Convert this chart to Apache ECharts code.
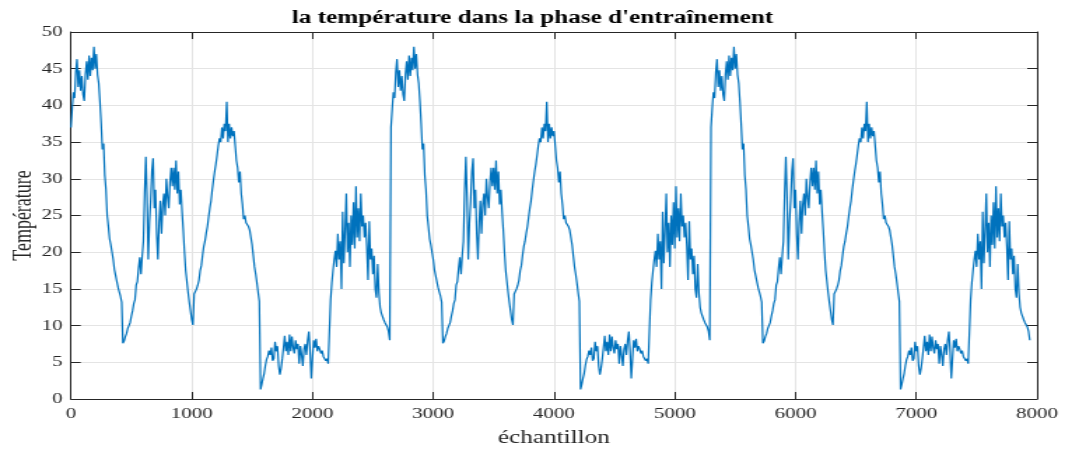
<!DOCTYPE html>
<html><head><meta charset="utf-8">
<script src="https://cdn.jsdelivr.net/npm/echarts@6/dist/echarts.min.js"></script>
<style>
html,body{margin:0;padding:0;background:#fff;overflow:hidden;width:1065px;height:450px}
#chart{width:761px;height:450px;transform:scaleX(1.39948);transform-origin:0 0;}
</style>
</head><body><div id="chart"></div>
<script>
const titleText = "la température dans la phase d'entraînement";
const xName = "échantillon";
const yName = "Température";
const xTicks = [0, 1000, 2000, 3000, 4000, 5000, 6000, 7000, 8000];
const yTicks = [0, 5, 10, 15, 20, 25, 30, 35, 40, 45, 50];

// One training cycle (read every 10 samples); the picture shows it three times
const sampleStep = 10;
const cycleLength = 2650;
const cycleCount = 3;
const cycleTemperature = [
  37.0, 39.5, 41.8, 41.0, 44.5, 46.3, 42.5, 44.8, 42.0, 44.0,
  41.5, 40.6, 44.2, 46.0, 43.5, 46.8, 44.0, 46.5, 44.8, 48.0,
  45.0, 47.0, 44.2, 43.0, 40.5, 37.5, 34.0, 34.8, 30.5, 28.5,
  25.0, 23.5, 21.8, 21.0, 20.0, 19.0, 17.6, 16.8, 16.0, 15.2,
  14.6, 14.0, 13.2, 7.6, 7.9, 8.5, 8.9, 9.6, 10.0, 10.4,
  11.3, 12.0, 13.0, 13.5, 15.5, 16.0, 17.8, 19.3, 17.0, 19.5,
  21.5, 28.0, 33.0, 27.5, 19.0, 24.0, 27.0, 31.0, 32.8, 26.0,
  28.5, 22.5, 19.0, 24.0, 27.0, 22.5, 26.5, 28.0, 25.0, 30.0,
  27.5, 26.0, 29.5, 31.5, 29.0, 31.5, 28.5, 32.5, 28.0, 31.0,
  26.5, 28.5, 25.5, 23.0, 20.0, 17.5, 16.0, 14.5, 13.2, 12.0,
  10.8, 10.1, 14.3, 14.5, 15.0, 15.5, 16.2, 17.5, 18.2, 19.6,
  20.8, 21.5, 22.6, 23.5, 24.8, 26.0, 27.0, 28.5, 29.8, 31.0,
  32.0, 33.2, 34.5, 35.5, 35.0, 37.0, 35.5, 37.5, 36.5, 40.5,
  35.0, 37.5, 35.5, 37.0, 35.8, 36.5, 34.5, 32.5, 31.5, 29.5,
  31.0, 28.0, 26.5, 24.5, 25.0, 24.0, 24.2, 23.5, 23.0, 22.8,
  21.0, 19.5, 18.0, 17.0, 15.8, 14.5, 13.3, 1.3, 2.0, 2.8,
  3.5, 4.6, 5.4, 5.8, 6.6, 6.0, 7.0, 5.2, 5.5, 7.8,
  6.5, 7.2, 4.5, 3.3, 4.2, 5.5, 7.0, 8.6, 6.5, 7.8,
  6.0, 8.8, 6.5, 8.5, 7.0, 6.2, 8.0, 6.8, 7.5, 4.8,
  7.2, 6.0, 4.5, 6.8, 7.5, 6.0, 8.0, 9.2, 6.5, 2.8,
  5.5, 8.0, 7.0, 8.2, 6.5, 7.2, 6.8, 6.2, 6.6, 5.8,
  6.0, 5.2, 5.5, 4.8, 5.0, 13.5, 15.8, 17.5, 19.0, 20.2,
  18.0, 22.5, 19.0, 21.5, 15.0, 25.5, 18.5, 23.0, 28.0, 20.0,
  24.0, 18.0, 25.0, 21.0, 26.8, 20.5, 29.0, 22.0, 26.0, 21.5,
  28.0, 23.5, 25.0, 22.0, 24.0, 20.8, 16.2, 24.2, 19.0, 20.5,
  17.0, 19.5, 15.0, 13.8, 18.4, 14.5, 12.5, 11.7, 11.5, 10.8,
  10.4, 10.2, 9.8, 9.2, 8.0
];

const seriesData = [];
for (let c = 0; c < cycleCount; c++) {
  for (let i = 0; i < cycleTemperature.length; i++) {
    seriesData.push([c * cycleLength + i * sampleStep, cycleTemperature[i]]);
  }
}

const axisColor = '#262626';
const font = '"Liberation Serif", "Times New Roman", serif';
const chart = echarts.init(document.getElementById('chart'), null, {renderer: 'canvas'});

const xBase = {
  type: 'value', min: xTicks[0], max: xTicks[xTicks.length - 1], interval: 1000,
  axisLine: {show: true, onZero: false, lineStyle: {color: axisColor, width: 1}},
  axisTick: {show: true, inside: true, length: 7, lineStyle: {color: axisColor}},
};
const yBase = {
  type: 'value', min: yTicks[0], max: yTicks[yTicks.length - 1], interval: 5,
  axisLine: {show: true, onZero: false, lineStyle: {color: axisColor, width: 1}},
  axisTick: {show: true, inside: true, length: 7, lineStyle: {color: axisColor}},
};

chart.setOption({
  animation: false,
  backgroundColor: '#ffffff',
  title: {
    text: titleText, left: 'center', top: 4,
    textStyle: {fontFamily: font, fontSize: 18, fontWeight: 'bold', color: '#000'}
  },
  grid: {left: 50.7, right: 20, top: 32, bottom: 51, containLabel: false, outerBoundsMode: 'none'},
  xAxis: [
    Object.assign({}, xBase, {
      position: 'bottom', name: xName, nameLocation: 'middle', nameGap: 30, nameMoveOverlap: false,
      nameTextStyle: {fontFamily: font, fontSize: 18, color: axisColor},
      axisLabel: {show: true, margin: 8, fontFamily: font, fontSize: 15, color: axisColor,
        formatter: v => String(v)},
      splitLine: {show: true, lineStyle: {color: '#e4e4e4', width: 1}}
    }),
    Object.assign({}, xBase, {
      position: 'top', axisLabel: {show: false}, splitLine: {show: false}
    })
  ],
  yAxis: [
    Object.assign({}, yBase, {
      position: 'left', name: yName, nameLocation: 'middle', nameGap: 24, nameMoveOverlap: false,
      nameTextStyle: {fontFamily: font, fontSize: 18, color: axisColor},
      axisLabel: {show: true, margin: 6, fontFamily: font, fontSize: 15, color: axisColor},
      splitLine: {show: true, lineStyle: {color: '#e4e4e4', width: 1}}
    }),
    Object.assign({}, yBase, {
      position: 'right', axisLabel: {show: false}, splitLine: {show: false}
    })
  ],
  series: [{
    type: 'line', xAxisIndex: 0, yAxisIndex: 0,
    data: seriesData, showSymbol: false, symbol: 'none', sampling: null,
    lineStyle: {color: '#0072BD', width: 1.2}, z: 3
  }]
});
</script>
</body></html>
